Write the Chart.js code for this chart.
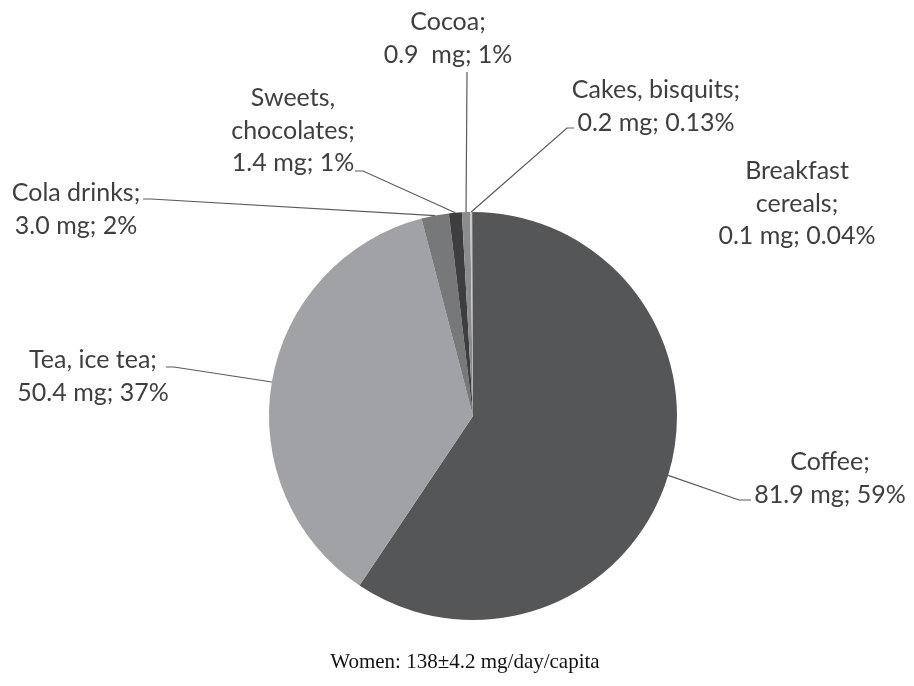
<!DOCTYPE html>
<html>
<head>
<meta charset="utf-8">
<script src="https://cdn.jsdelivr.net/npm/chart.js@4"></script>
<style>
  html, body { margin: 0; padding: 0; background: #fff; }
  #wrap { position: relative; width: 914px; height: 686px; }
</style>
</head>
<body>
<div id="wrap"><canvas id="chart" width="914" height="686"></canvas></div>
<script>
const categories = ['Coffee', 'Tea, ice tea', 'Cola drinks', 'Sweets, chocolates', 'Cocoa', 'Cakes, bisquits', 'Breakfast cereals'];
// label text as it is wrapped in the figure
const nameLines = [['Coffee;'], ['Tea, ice tea;'], ['Cola drinks;'], ['Sweets,', 'chocolates;'], ['Cocoa;'], ['Cakes, bisquits;'], ['Breakfast', 'cereals;']];
const valuesMg = [81.9, 50.4, 3.0, 1.4, 0.9, 0.2, 0.1];
const valueText = ['81.9 mg', '50.4 mg', '3.0 mg', '1.4 mg', '0.9  mg', '0.2 mg', '0.1 mg'];
const pctText = ['59%', '37%', '2%', '1%', '1%', '0.13%', '0.04%'];
const colors = ['#555658', '#a1a2a6', '#77787a', '#3e3e40', '#8b8c8e', '#c6c7c9', '#6a6a6c'];
const footer = 'Women: 138\u00b14.2 mg/day/capita';

// where each label block sits (center x, first line y) and where its leader line leaves it
const labelPos = [
  { x: 830, y: 462, stub: [751, 500, 739, 500] },
  { x: 93,  y: 360, stub: [166, 367, 174, 367] },
  { x: 76,  y: 193, stub: [143, 199, 151, 199] },
  { x: 293, y: 98,  stub: [355, 171, 363, 171] },
  { x: 448, y: 22,  stub: [467, 72, 467, 74] },
  { x: 656, y: 90,  stub: [574, 128, 567, 128] },
  { x: 797, y: 171, stub: null }
];

const lineGap = 32.5;

const labelPlugin = {
  id: 'pieLabels',
  afterDraw(chart) {
    const ctx = chart.ctx;
    const arcs = chart.getDatasetMeta(0).data;

    ctx.save();

    // leader lines
    ctx.strokeStyle = '#5a5a5a';
    ctx.lineWidth = 1.2;
    arcs.forEach((arc, i) => {
      const p = labelPos[i];
      if ( ! p.stub ) return;
      const mid = (arc.startAngle + arc.endAngle) / 2;
      const ex = arc.x + arc.outerRadius * Math.cos(mid);
      const ey = arc.y + arc.outerRadius * Math.sin(mid);
      ctx.beginPath();
      ctx.moveTo(p.stub[0], p.stub[1]);
      ctx.lineTo(p.stub[2], p.stub[3]);
      ctx.lineTo(ex, ey);
      ctx.stroke();
    });

    // label text
    ctx.fillStyle = '#3f3f3f';
    ctx.font = '25px Lato';
    ctx.textAlign = 'center';
    ctx.textBaseline = 'middle';
    arcs.forEach((arc, i) => {
      const p = labelPos[i];
      const lines = nameLines[i].concat([valueText[i] + '; ' + pctText[i]]);
      lines.forEach((t, k) => ctx.fillText(t, p.x, p.y + k * lineGap));
    });

    // caption under the pie
    ctx.fillStyle = '#111';
    ctx.font = '21px "Liberation Serif"';
    ctx.fillText(footer, 465, 662);

    ctx.restore();
  }
};

const data = {
  labels: categories,
  datasets: [{
    data: valuesMg,
    backgroundColor: colors,
    borderWidth: 0
  }]
};

const config = {
  type: 'pie',
  data: data,
  options: {
    responsive: false,
    animation: false,
    layout: {
      padding: { left: 269, right: 237, top: 212, bottom: 66 }
    },
    plugins: {
      legend: { display: false },
      tooltip: { enabled: false }
    }
  },
  plugins: [labelPlugin]
};

new Chart(document.getElementById('chart'), config);
</script>
</body>
</html>
